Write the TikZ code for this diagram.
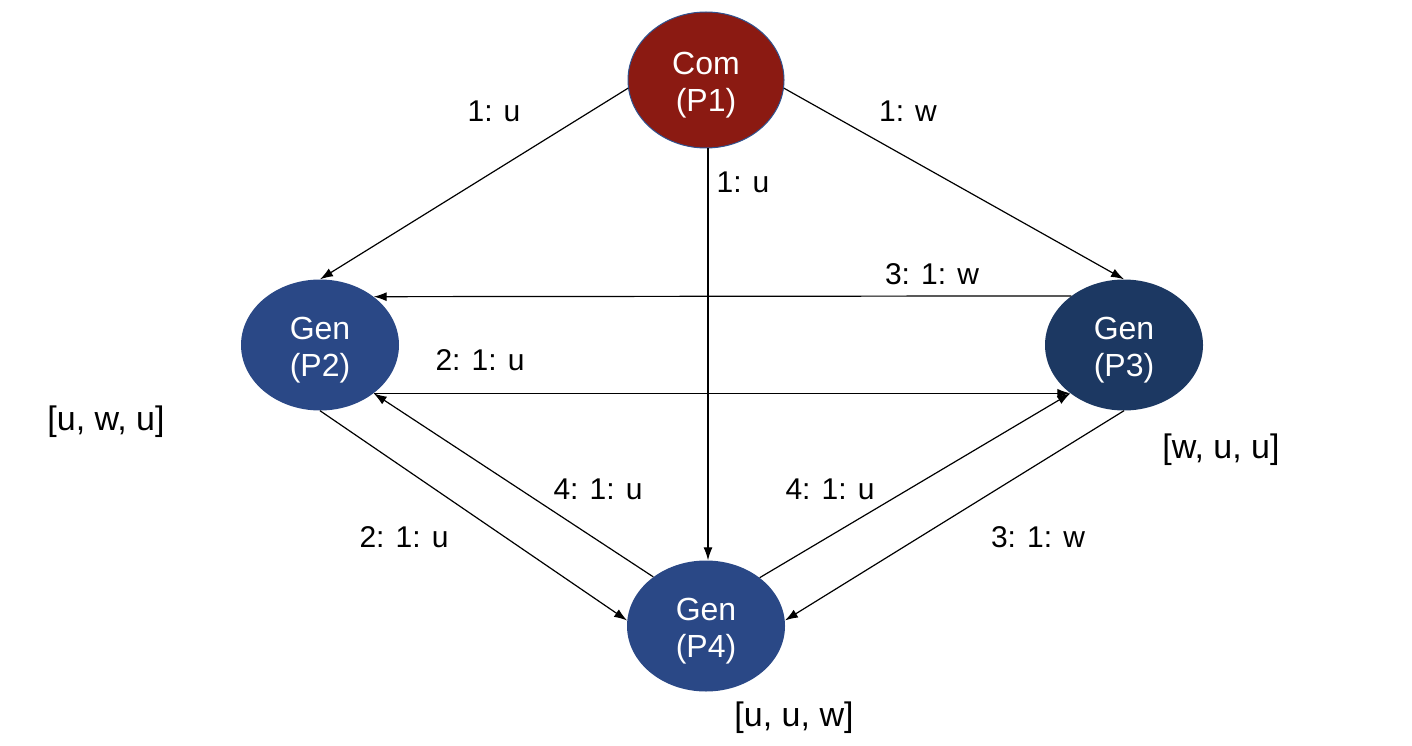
\documentclass[tikz,border=0pt]{standalone}
\usepackage{fontspec}
\setmainfont{Liberation Sans}
\usetikzlibrary{shapes.geometric,arrows.meta}
\definecolor{comred}{HTML}{8B1A12}
\definecolor{genblue}{HTML}{2A4886}
\definecolor{gendark}{HTML}{1C3862}
\definecolor{rimblue}{HTML}{2F528F}
\newcommand{\topstrut}{\rule{0pt}{33pt}}
\begin{document}
\begin{tikzpicture}[x=1pt,y=-1pt,
  proc/.style={ellipse,minimum width=158pt,minimum height=131pt,inner sep=0pt,
    text=white,align=center,font=\fontsize{32}{37}\selectfont},
  lbl/.style={font=\fontsize{30}{35}\selectfont,inner sep=0pt},
  seq/.style={font=\fontsize{34}{40}\selectfont,inner sep=0pt},
  msg/.style={-{Latex[length=13pt,width=9pt]},line width=1.2pt}]
\useasboundingbox (0,0) rectangle (1412,746);
\node[proc,fill=comred,draw=rimblue,line width=1pt,minimum width=156pt,minimum height=136pt] (p1) at (706,80) {\topstrut Com\\(P1)};
\node[proc,fill=genblue] (p2) at (320,345) {\topstrut Gen\\(P2)};
\node[proc,fill=gendark] (p3) at (1124,345) {\topstrut Gen\\(P3)};
\node[proc,fill=genblue] (p4) at (706,626) {\topstrut Gen\\(P4)};
\draw[msg] (p1.186) -- (p2.north);
\draw[msg] (p1.-6) -- (p3.north);
\draw[msg] ([xshift=2pt]p1.south) -- ([xshift=2pt]p4.north);
\draw[msg] (p3.137.8) -- (p2.42.2);
\draw[msg] (p2.-42.2) -- (p3.222.2);
\draw[msg] (p2.south) -- (p4.176);
\draw[msg] (p4.137.8) -- (p2.-42.2);
\draw[msg] (p4.42.2) -- (p3.222.2);
\draw[msg] (p3.south) -- (p4.4);
\node[lbl] (l1) at (494,111) {1: u};
\node[lbl] (l2) at (908,111) {1: w};
\node[lbl] (l3) at (743,182) {1: u};
\node[lbl] (l4) at (932,274) {3: 1: w};
\node[lbl] (l5) at (480,360) {2: 1: u};
\node[lbl] (l6) at (598,489) {4: 1: u};
\node[lbl] (l7) at (830,489) {4: 1: u};
\node[lbl] (l8) at (404,537) {2: 1: u};
\node[lbl] (l9) at (1038,537) {3: 1: w};
\node[seq] (s2) at (106,422) {[u, w, u]};
\node[seq] (s3) at (1221,450) {[w, u, u]};
\node[seq] (s4) at (794,718) {[u, u, w]};
\end{tikzpicture}
\end{document}
